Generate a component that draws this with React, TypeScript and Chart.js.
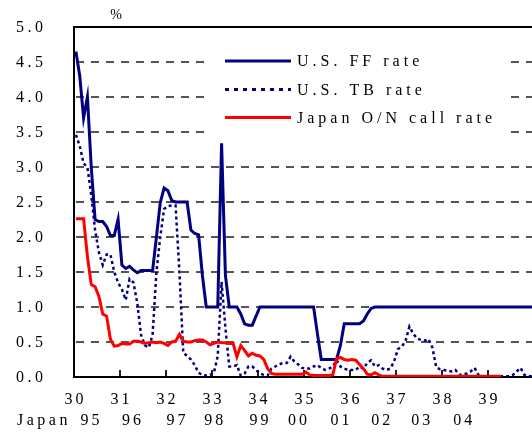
import { useEffect, useRef } from 'react';
import { Chart, registerables } from 'chart.js';

Chart.register(...registerables);

// ---- Data ----
const US_YEAR_LABELS = ['30', '31', '32', '33', '34', '35', '36', '37', '38', '39'];
const US_YEAR_VALUES = [30, 31, 32, 33, 34, 35, 36, 37, 38, 39];
const JAPAN_YEAR_LABELS = ['95', '96', '97', '98', '99', '00', '01', '02', '03', '04'];
const JAPAN_LABEL_POS = [30.35, 31.25, 32.22, 33.04, 34.02, 34.86, 35.78, 36.67, 37.54, 38.45];
const Y_TICKS = [0, 0.5, 1, 1.5, 2, 2.5, 3, 3.5, 4, 4.5, 5];
const GRID_VALUES = [0.5, 1, 1.5, 2, 2.5, 3, 3.5, 4, 4.5];
const SERIES_NAMES = ['U.S. FF rate', 'U.S. TB rate', 'Japan O/N call rate'];

// monthly values, first month of the 30's
const usFF = [
  4.65, 4.3, 3.7, 4.0, 3.0, 2.25, 2.22, 2.22, 2.15, 2.02,
  2.02, 2.25, 1.6, 1.55, 1.58, 1.53, 1.49, 1.52, 1.52, 1.52,
  1.52, 2.0, 2.49, 2.7, 2.66, 2.52, 2.5, 2.5, 2.5, 2.5,
  2.1, 2.05, 2.03, 1.45, 1.0, 1.0, 1.0, 1.0, 3.34, 1.45,
  1.0, 1.0, 1.0, 0.9, 0.76, 0.74, 0.74, 0.87, 1.0, 1.0,
  1.0, 1.0, 1.0, 1.0, 1.0, 1.0, 1.0, 1.0, 1.0, 1.0,
  1.0, 1.0, 1.0, 0.62, 0.25, 0.25, 0.25, 0.25, 0.25, 0.45,
  0.76, 0.76, 0.76, 0.76, 0.76, 0.8, 0.9, 0.98, 1.0, 1.0,
  1.0, 1.0, 1.0, 1.0, 1.0, 1.0, 1.0, 1.0, 1.0, 1.0,
  1.0, 1.0, 1.0, 1.0, 1.0, 1.0, 1.0, 1.0, 1.0, 1.0,
  1.0, 1.0, 1.0, 1.0, 1.0, 1.0, 1.0, 1.0, 1.0, 1.0,
  1.0, 1.0, 1.0, 1.0, 1.0, 1.0, 1.0, 1.0, 1.0, 1.0,
];

const usTB = [
  3.46, 3.3, 3.05, 3.0, 2.6, 2.1, 1.78, 1.6, 1.75, 1.75,
  1.5, 1.35, 1.25, 1.1, 1.4, 1.35, 1.06, 0.6, 0.45, 0.42,
  0.6, 1.5, 2.0, 2.4, 2.44, 2.45, 2.45, 1.5, 0.35, 0.3,
  0.25, 0.17, 0.06, 0.03, 0.02, 0.03, 0.06, 0.3, 1.36, 0.7,
  0.15, 0.15, 0.17, 0.02, 0.05, 0.15, 0.15, 0.1, 0.05, 0.03,
  0.02, 0.12, 0.15, 0.18, 0.2, 0.2, 0.29, 0.22, 0.18, 0.13,
  0.12, 0.12, 0.15, 0.17, 0.13, 0.1, 0.12, 0.15, 0.24, 0.15,
  0.12, 0.1, 0.1, 0.1, 0.15, 0.12, 0.2, 0.24, 0.15, 0.17,
  0.12, 0.1, 0.12, 0.22, 0.4, 0.43, 0.52, 0.72, 0.62, 0.55,
  0.53, 0.52, 0.54, 0.42, 0.14, 0.11, 0.1, 0.09, 0.08, 0.1,
  0.03, 0.04, 0.05, 0.08, 0.13, 0.03, 0.01, 0.01, 0.01, 0.01,
  0.01, 0.01, 0.01, 0.01, 0.03, 0.08, 0.13, 0.03, 0.01, 0.01,
];

const japanCall = [
  2.26, 2.26, 2.26, 1.72, 1.32, 1.29, 1.15, 0.9, 0.87, 0.54,
  0.44, 0.45, 0.48, 0.47, 0.47, 0.51, 0.51, 0.5, 0.48, 0.49,
  0.5, 0.49, 0.5, 0.48, 0.45, 0.5, 0.51, 0.61, 0.51, 0.5,
  0.5, 0.52, 0.53, 0.53, 0.5, 0.46, 0.48, 0.5, 0.49, 0.49,
  0.48, 0.48, 0.29, 0.45, 0.38, 0.3, 0.34, 0.31, 0.3, 0.25,
  0.12, 0.05, 0.04, 0.04, 0.04, 0.04, 0.04, 0.04, 0.04, 0.04,
  0.07, 0.03, 0.02, 0.02, 0.02, 0.02, 0.02, 0.03, 0.26, 0.28,
  0.25, 0.24, 0.25, 0.24, 0.18, 0.12, 0.04, 0.03, 0.06, 0.03,
  0.01, 0.01, 0.01, 0.01, 0.01, 0.01, 0.01, 0.01, 0.01, 0.01,
  0.01, 0.01, 0.01, 0.01, 0.01, 0.01, 0.01, 0.01, 0.01, 0.01,
  0.01, 0.01, 0.01, 0.01, 0.01, 0.01, 0.01, 0.01, 0.01, 0.01,
  0.01, 0.01,
];

const NAVY = '#000080';
const RED = '#ff0000';
const FONT = '"Liberation Serif", "Times New Roman", serif';

const toPoints = (arr: number[]) => arr.map((v, i) => ({ x: 30 + (i + 0.5) / 12, y: v }));

// dashed grid + inward ticks, painted underneath what is already drawn
function drawGridAndTicks(chart: any) {
  const ctx = chart.ctx;
  const area = chart.chartArea;
  const xs = chart.scales['x'];
  const ys = chart.scales['y'];
  ctx.save();
  ctx.globalCompositeOperation = 'destination-over';
  ctx.fillStyle = '#222';
  for (let k = 0; k < US_YEAR_VALUES.length; k++) {
    const px = Math.round(Number(xs.getPixelForValue(US_YEAR_VALUES[k])));
    ctx.fillRect(px - 1, area.bottom - 7, 2, 7);
  }
  ctx.fillStyle = '#555';
  for (let k = 0; k < GRID_VALUES.length; k++) {
    const py = Math.round(Number(ys.getPixelForValue(GRID_VALUES[k])));
    for (let gx = area.left + 2; gx < area.right; gx += 15) {
      ctx.fillRect(gx, py - 1, Math.min(8, area.right - gx), 2);
    }
  }
  ctx.restore();
}

const decorPlugin = {
  id: 'decor',
  afterDatasetsDraw(chart: any) {
    const { ctx, chartArea } = chart;
    ctx.save();
    // top border
    ctx.fillStyle = '#000';
    ctx.fillRect(chartArea.left, chartArea.top - 1, chartArea.right - chartArea.left, 2);
    // legend box
    ctx.fillStyle = '#fff';
    ctx.fillRect(207, 40, 300, 98);
    const rows = [61, 89.5, 117.5];
    const styles = [
      { color: NAVY, dash: [] as number[], width: 3 },
      { color: NAVY, dash: [4, 5], width: 3 },
      { color: RED, dash: [] as number[], width: 3 },
    ];
    rows.forEach((ry, k) => {
      const s = styles[k];
      ctx.strokeStyle = s.color;
      ctx.lineWidth = s.width;
      ctx.setLineDash(s.dash);
      ctx.beginPath();
      ctx.moveTo(225, ry);
      ctx.lineTo(291, ry);
      ctx.stroke();
    });
    ctx.setLineDash([]);
    ctx.fillStyle = '#000';
    ctx.font = `16px ${FONT}`;
    (ctx as any).letterSpacing = '4px';
    ctx.textBaseline = 'middle';
    ctx.textAlign = 'left';
    rows.forEach((ry, k) => {
      ctx.fillText(SERIES_NAMES[k], 297, ry + 1);
    });
    ctx.restore();
  },
  afterDraw(chart: any) {
    const { ctx, chartArea } = chart;
    const xs = chart.scales.x;
    const ys = chart.scales.y;
    drawGridAndTicks(chart);
    ctx.save();
    ctx.fillStyle = '#000';
    ctx.textBaseline = 'middle';
    // y labels
    ctx.font = `16px ${FONT}`;
    (ctx as any).letterSpacing = '3.5px';
    ctx.textAlign = 'left';
    Y_TICKS.forEach((v) => {
      ctx.fillText(v.toFixed(1), chartArea.left - 58, ys.getPixelForValue(v) + 1);
    });
    // x labels
    const ls = 3;
    (ctx as any).letterSpacing = ls + 'px';
    ctx.textAlign = 'center';
    US_YEAR_LABELS.forEach((lab, k) => {
      ctx.fillText(lab, xs.getPixelForValue(US_YEAR_VALUES[k]) + ls / 2, chartArea.bottom + 23);
    });
    JAPAN_YEAR_LABELS.forEach((lab, k) => {
      ctx.fillText(lab, xs.getPixelForValue(JAPAN_LABEL_POS[k]) + ls / 2, chartArea.bottom + 44);
    });
    (ctx as any).letterSpacing = '3.5px';
    ctx.textAlign = 'left';
    ctx.fillText('Japan', 17, chartArea.bottom + 44);
    // unit label
    (ctx as any).letterSpacing = '0px';
    ctx.textAlign = 'center';
    ctx.font = `14px ${FONT}`;
    ctx.fillText('%', 116, 15);
    ctx.restore();
  },
};

export default function App() {
  const ref = useRef<HTMLCanvasElement | null>(null);
  useEffect(() => {
    if (!ref.current) return;
    const chart = new Chart(ref.current, {
      type: 'line',
      data: {
        datasets: [
          {
            label: SERIES_NAMES[0],
            data: toPoints(usFF),
            borderColor: NAVY,
            borderWidth: 3,
            pointRadius: 0,
            tension: 0,
            order: 1,
          },
          {
            label: SERIES_NAMES[1],
            data: toPoints(usTB),
            borderColor: NAVY,
            borderWidth: 2.5,
            borderDash: [3, 3],
            pointRadius: 0,
            tension: 0,
            order: 2,
          },
          {
            label: SERIES_NAMES[2],
            data: toPoints(japanCall),
            borderColor: RED,
            borderWidth: 3,
            pointRadius: 0,
            tension: 0,
            order: 0,
          },
        ],
      },
      options: {
        responsive: false,
        maintainAspectRatio: false,
        animation: false,
        layout: { padding: { top: 27, left: 0, right: 0, bottom: 0 } },
        plugins: { legend: { display: false }, tooltip: { enabled: false } },
        scales: {
          x: {
            type: 'linear',
            min: 30,
            max: 30 + 458 / 46,
            grid: { display: false },
            border: { display: true, color: '#000', width: 2 },
            ticks: { display: false },
            afterFit: (s: any) => {
              s.height = 55;
            },
          },
          y: {
            min: 0,
            max: 5,
            grid: { display: false },
            border: { display: true, color: '#000', width: 2 },
            ticks: { display: false, stepSize: 0.5 },
            afterFit: (s: any) => {
              s.width = 74;
            },
          },
        },
      },
      plugins: [decorPlugin],
    } as any);
    return () => chart.destroy();
  }, []);
  return (
    <div style={{ position: 'absolute', left: 0, top: 0, width: 532, height: 432, background: '#fff' }}>
      <canvas ref={ref} width={532} height={432} style={{ display: 'block' }} />
    </div>
  );
}
